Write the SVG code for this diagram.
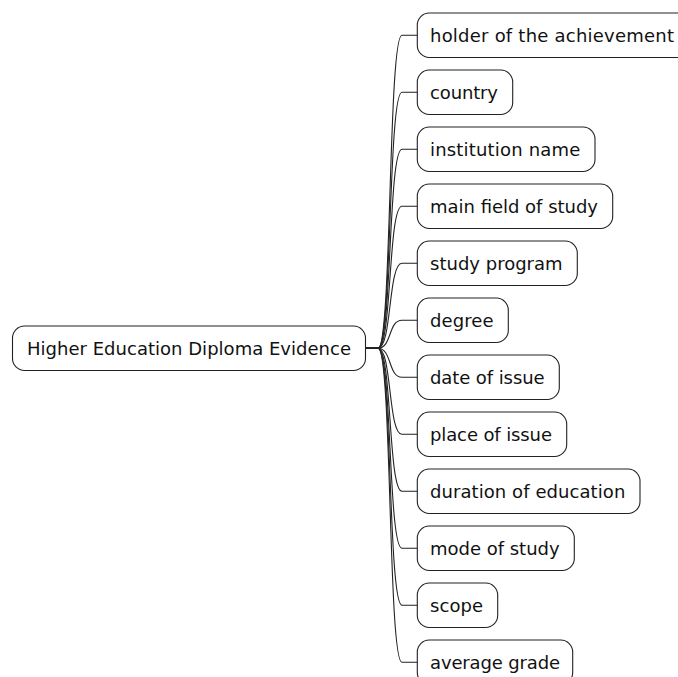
<svg xmlns="http://www.w3.org/2000/svg" width="678" height="677" viewBox="0 0 678 677">
<style>
.box{fill:#ffffff;stroke:#222222;stroke-width:1.1}
.lbl{font-family:"DejaVu Sans",sans-serif;font-size:18px;fill:#111111}
.con{fill:none;stroke:#222222;stroke-width:1.1}
</style>
<rect x="0" y="0" width="678" height="677" fill="#ffffff"/>
<g id="connectors">
<path class="con" d="M365.5 348.25 L378 348.25 C392 348.25 388 35.25 402 35.25 L417.3 35.25"/>
<path class="con" d="M365.5 348.25 L378 348.25 C392 348.25 388 92.25 402 92.25 L417.3 92.25"/>
<path class="con" d="M365.5 348.25 L378 348.25 C392 348.25 388 149.25 402 149.25 L417.3 149.25"/>
<path class="con" d="M365.5 348.25 L378 348.25 C392 348.25 388 206.25 402 206.25 L417.3 206.25"/>
<path class="con" d="M365.5 348.25 L378 348.25 C392 348.25 388 263.25 402 263.25 L417.3 263.25"/>
<path class="con" d="M365.5 348.25 L378 348.25 C392 348.25 388 320.25 402 320.25 L417.3 320.25"/>
<path class="con" d="M365.5 348.25 L378 348.25 C392 348.25 388 377.25 402 377.25 L417.3 377.25"/>
<path class="con" d="M365.5 348.25 L378 348.25 C392 348.25 388 434.25 402 434.25 L417.3 434.25"/>
<path class="con" d="M365.5 348.25 L378 348.25 C392 348.25 388 491.25 402 491.25 L417.3 491.25"/>
<path class="con" d="M365.5 348.25 L378 348.25 C392 348.25 388 548.25 402 548.25 L417.3 548.25"/>
<path class="con" d="M365.5 348.25 L378 348.25 C392 348.25 388 605.25 402 605.25 L417.3 605.25"/>
<path class="con" d="M365.5 348.25 L378 348.25 C392 348.25 388 662.25 402 662.25 L417.3 662.25"/>
</g>
<g id="root">
<rect class="box" x="12.5" y="326" width="353" height="44.5" rx="12" ry="12"/>
<text class="lbl" x="27" y="355" textLength="324" lengthAdjust="spacing">Higher Education Diploma Evidence</text>
</g>
<g id="n1">
<rect class="box" x="417.3" y="13" width="271.4" height="44.5" rx="12" ry="12"/>
<text class="lbl" x="430" y="42" textLength="244" lengthAdjust="spacing">holder of the achievement</text>
</g>
<g id="n2">
<rect class="box" x="417.3" y="70" width="95.4" height="44.5" rx="12" ry="12"/>
<text class="lbl" x="430" y="99" textLength="68" lengthAdjust="spacing">country</text>
</g>
<g id="n3">
<rect class="box" x="417.3" y="127" width="177.7" height="44.5" rx="12" ry="12"/>
<text class="lbl" x="430" y="156" textLength="150.3" lengthAdjust="spacing">institution name</text>
</g>
<g id="n4">
<rect class="box" x="417.3" y="184" width="195.4" height="44.5" rx="12" ry="12"/>
<text class="lbl" x="430" y="213" textLength="168" lengthAdjust="spacing">main field of study</text>
</g>
<g id="n5">
<rect class="box" x="417.3" y="241" width="160" height="44.5" rx="12" ry="12"/>
<text class="lbl" x="430" y="270" textLength="132.6" lengthAdjust="spacing">study program</text>
</g>
<g id="n6">
<rect class="box" x="417.3" y="298" width="91" height="44.5" rx="12" ry="12"/>
<text class="lbl" x="430" y="327" textLength="63.6" lengthAdjust="spacing">degree</text>
</g>
<g id="n7">
<rect class="box" x="417.3" y="355" width="142" height="44.5" rx="12" ry="12"/>
<text class="lbl" x="430" y="384" textLength="114.6" lengthAdjust="spacing">date of issue</text>
</g>
<g id="n8">
<rect class="box" x="417.3" y="412" width="149.4" height="44.5" rx="12" ry="12"/>
<text class="lbl" x="430" y="441" textLength="122" lengthAdjust="spacing">place of issue</text>
</g>
<g id="n9">
<rect class="box" x="417.3" y="469" width="222.7" height="44.5" rx="12" ry="12"/>
<text class="lbl" x="430" y="498" textLength="195.3" lengthAdjust="spacing">duration of education</text>
</g>
<g id="n10">
<rect class="box" x="417.3" y="526" width="157" height="44.5" rx="12" ry="12"/>
<text class="lbl" x="430" y="555" textLength="129.6" lengthAdjust="spacing">mode of study</text>
</g>
<g id="n11">
<rect class="box" x="417.3" y="583" width="80.4" height="44.5" rx="12" ry="12"/>
<text class="lbl" x="430" y="612" textLength="53" lengthAdjust="spacing">scope</text>
</g>
<g id="n12">
<rect class="box" x="417.3" y="640" width="155.4" height="44.5" rx="12" ry="12"/>
<text class="lbl" x="430" y="669" textLength="130" lengthAdjust="spacing">average grade</text>
</g>
</svg>
